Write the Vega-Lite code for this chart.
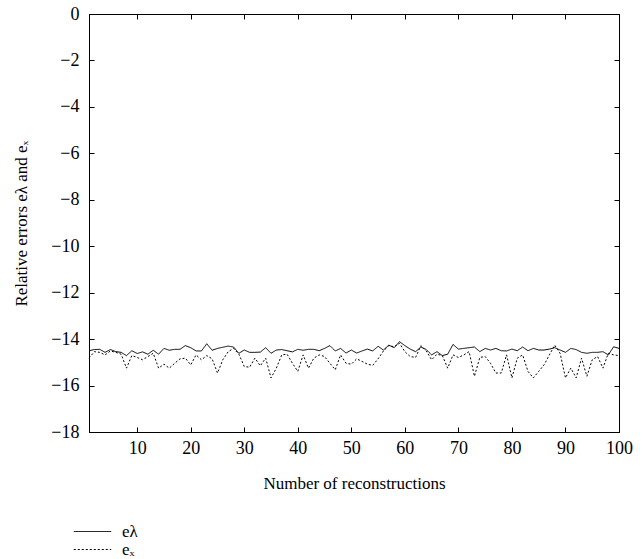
{
  "$schema": "https://vega.github.io/schema/vega-lite/v6.json",
  "width": 530,
  "height": 418,
  "autosize": "none",
  "padding": {"left": 89, "top": 14, "right": 25, "bottom": 127},
  "background": "white",
  "config": {
    "font": "Liberation Serif",
    "view": {"stroke": "black", "strokeWidth": 1},
    "axis": {"grid": false, "domainColor": "black", "tickColor": "black", "labelColor": "black", "titleColor": "black", "labelFont": "Liberation Serif", "titleFont": "Liberation Serif", "labelFontSize": 18, "titleFontSize": 17, "titleFontWeight": "normal", "tickSize": -5, "domainWidth": 1, "tickWidth": 1, "labelFlush": false},
    "legend": {"labelFont": "Liberation Serif", "labelFontSize": 17, "labelColor": "black"}
  },
  "data": {"values": [
    {"n":1,"s":"eλ","v":-14.50},{"n":2,"s":"eλ","v":-14.45},{"n":3,"s":"eλ","v":-14.44},{"n":4,"s":"eλ","v":-14.57},{"n":5,"s":"eλ","v":-14.45},
    {"n":6,"s":"eλ","v":-14.54},{"n":7,"s":"eλ","v":-14.57},{"n":8,"s":"eλ","v":-14.71},{"n":9,"s":"eλ","v":-14.50},{"n":10,"s":"eλ","v":-14.62},
    {"n":11,"s":"eλ","v":-14.55},{"n":12,"s":"eλ","v":-14.65},{"n":13,"s":"eλ","v":-14.48},{"n":14,"s":"eλ","v":-14.65},{"n":15,"s":"eλ","v":-14.40},
    {"n":16,"s":"eλ","v":-14.48},{"n":17,"s":"eλ","v":-14.44},{"n":18,"s":"eλ","v":-14.44},{"n":19,"s":"eλ","v":-14.28},{"n":20,"s":"eλ","v":-14.37},
    {"n":21,"s":"eλ","v":-14.51},{"n":22,"s":"eλ","v":-14.51},{"n":23,"s":"eλ","v":-14.20},{"n":24,"s":"eλ","v":-14.48},{"n":25,"s":"eλ","v":-14.40},
    {"n":26,"s":"eλ","v":-14.35},{"n":27,"s":"eλ","v":-14.30},{"n":28,"s":"eλ","v":-14.34},{"n":29,"s":"eλ","v":-14.61},{"n":30,"s":"eλ","v":-14.47},
    {"n":31,"s":"eλ","v":-14.57},{"n":32,"s":"eλ","v":-14.57},{"n":33,"s":"eλ","v":-14.56},{"n":34,"s":"eλ","v":-14.37},{"n":35,"s":"eλ","v":-14.61},
    {"n":36,"s":"eλ","v":-14.47},{"n":37,"s":"eλ","v":-14.45},{"n":38,"s":"eλ","v":-14.50},{"n":39,"s":"eλ","v":-14.55},{"n":40,"s":"eλ","v":-14.44},
    {"n":41,"s":"eλ","v":-14.48},{"n":42,"s":"eλ","v":-14.44},{"n":43,"s":"eλ","v":-14.44},{"n":44,"s":"eλ","v":-14.50},{"n":45,"s":"eλ","v":-14.40},
    {"n":46,"s":"eλ","v":-14.28},{"n":47,"s":"eλ","v":-14.51},{"n":48,"s":"eλ","v":-14.40},{"n":49,"s":"eλ","v":-14.60},{"n":50,"s":"eλ","v":-14.47},
    {"n":51,"s":"eλ","v":-14.60},{"n":52,"s":"eλ","v":-14.51},{"n":53,"s":"eλ","v":-14.43},{"n":54,"s":"eλ","v":-14.51},{"n":55,"s":"eλ","v":-14.31},
    {"n":56,"s":"eλ","v":-14.47},{"n":57,"s":"eλ","v":-14.26},{"n":58,"s":"eλ","v":-14.37},{"n":59,"s":"eλ","v":-14.11},{"n":60,"s":"eλ","v":-14.28},
    {"n":61,"s":"eλ","v":-14.43},{"n":62,"s":"eλ","v":-14.54},{"n":63,"s":"eλ","v":-14.34},{"n":64,"s":"eλ","v":-14.45},{"n":65,"s":"eλ","v":-14.68},
    {"n":66,"s":"eλ","v":-14.54},{"n":67,"s":"eλ","v":-14.71},{"n":68,"s":"eλ","v":-14.65},{"n":69,"s":"eλ","v":-14.23},{"n":70,"s":"eλ","v":-14.43},
    {"n":71,"s":"eλ","v":-14.40},{"n":72,"s":"eλ","v":-14.37},{"n":73,"s":"eλ","v":-14.34},{"n":74,"s":"eλ","v":-14.54},{"n":75,"s":"eλ","v":-14.40},
    {"n":76,"s":"eλ","v":-14.47},{"n":77,"s":"eλ","v":-14.40},{"n":78,"s":"eλ","v":-14.50},{"n":79,"s":"eλ","v":-14.51},{"n":80,"s":"eλ","v":-14.43},
    {"n":81,"s":"eλ","v":-14.50},{"n":82,"s":"eλ","v":-14.34},{"n":83,"s":"eλ","v":-14.50},{"n":84,"s":"eλ","v":-14.40},{"n":85,"s":"eλ","v":-14.47},
    {"n":86,"s":"eλ","v":-14.47},{"n":87,"s":"eλ","v":-14.43},{"n":88,"s":"eλ","v":-14.37},{"n":89,"s":"eλ","v":-14.47},{"n":90,"s":"eλ","v":-14.57},
    {"n":91,"s":"eλ","v":-14.40},{"n":92,"s":"eλ","v":-14.45},{"n":93,"s":"eλ","v":-14.57},{"n":94,"s":"eλ","v":-14.61},{"n":95,"s":"eλ","v":-14.57},
    {"n":96,"s":"eλ","v":-14.57},{"n":97,"s":"eλ","v":-14.54},{"n":98,"s":"eλ","v":-14.68},{"n":99,"s":"eλ","v":-14.33},{"n":100,"s":"eλ","v":-14.40},
    {"n":1,"s":"eₓ","v":-14.82},{"n":2,"s":"eₓ","v":-14.54},{"n":3,"s":"eₓ","v":-14.57},{"n":4,"s":"eₓ","v":-14.68},{"n":5,"s":"eₓ","v":-14.51},
    {"n":6,"s":"eₓ","v":-14.57},{"n":7,"s":"eₓ","v":-14.65},{"n":8,"s":"eₓ","v":-15.25},{"n":9,"s":"eₓ","v":-14.71},{"n":10,"s":"eₓ","v":-14.79},
    {"n":11,"s":"eₓ","v":-14.89},{"n":12,"s":"eₓ","v":-14.75},{"n":13,"s":"eₓ","v":-14.61},{"n":14,"s":"eₓ","v":-15.25},{"n":15,"s":"eₓ","v":-15.08},
    {"n":16,"s":"eₓ","v":-15.25},{"n":17,"s":"eₓ","v":-15.04},{"n":18,"s":"eₓ","v":-14.85},{"n":19,"s":"eₓ","v":-14.82},{"n":20,"s":"eₓ","v":-15.11},
    {"n":21,"s":"eₓ","v":-14.68},{"n":22,"s":"eₓ","v":-14.89},{"n":23,"s":"eₓ","v":-14.71},{"n":24,"s":"eₓ","v":-14.85},{"n":25,"s":"eₓ","v":-15.46},
    {"n":26,"s":"eₓ","v":-14.89},{"n":27,"s":"eₓ","v":-14.54},{"n":28,"s":"eₓ","v":-14.40},{"n":29,"s":"eₓ","v":-14.65},{"n":30,"s":"eₓ","v":-15.18},
    {"n":31,"s":"eₓ","v":-15.21},{"n":32,"s":"eₓ","v":-14.82},{"n":33,"s":"eₓ","v":-15.15},{"n":34,"s":"eₓ","v":-14.82},{"n":35,"s":"eₓ","v":-15.67},
    {"n":36,"s":"eₓ","v":-15.25},{"n":37,"s":"eₓ","v":-14.68},{"n":38,"s":"eₓ","v":-14.65},{"n":39,"s":"eₓ","v":-15.04},{"n":40,"s":"eₓ","v":-15.39},
    {"n":41,"s":"eₓ","v":-14.68},{"n":42,"s":"eₓ","v":-15.25},{"n":43,"s":"eₓ","v":-14.82},{"n":44,"s":"eₓ","v":-14.68},{"n":45,"s":"eₓ","v":-14.75},
    {"n":46,"s":"eₓ","v":-15.04},{"n":47,"s":"eₓ","v":-15.32},{"n":48,"s":"eₓ","v":-14.68},{"n":49,"s":"eₓ","v":-15.04},{"n":50,"s":"eₓ","v":-15.08},
    {"n":51,"s":"eₓ","v":-14.85},{"n":52,"s":"eₓ","v":-14.96},{"n":53,"s":"eₓ","v":-15.08},{"n":54,"s":"eₓ","v":-15.13},{"n":55,"s":"eₓ","v":-14.85},
    {"n":56,"s":"eₓ","v":-14.51},{"n":57,"s":"eₓ","v":-14.28},{"n":58,"s":"eₓ","v":-14.33},{"n":59,"s":"eₓ","v":-14.18},{"n":60,"s":"eₓ","v":-14.54},
    {"n":61,"s":"eₓ","v":-14.75},{"n":62,"s":"eₓ","v":-14.79},{"n":63,"s":"eₓ","v":-14.28},{"n":64,"s":"eₓ","v":-14.51},{"n":65,"s":"eₓ","v":-14.89},
    {"n":66,"s":"eₓ","v":-14.65},{"n":67,"s":"eₓ","v":-14.71},{"n":68,"s":"eₓ","v":-15.25},{"n":69,"s":"eₓ","v":-14.68},{"n":70,"s":"eₓ","v":-14.79},
    {"n":71,"s":"eₓ","v":-14.68},{"n":72,"s":"eₓ","v":-14.54},{"n":73,"s":"eₓ","v":-15.60},{"n":74,"s":"eₓ","v":-14.79},{"n":75,"s":"eₓ","v":-14.75},
    {"n":76,"s":"eₓ","v":-15.04},{"n":77,"s":"eₓ","v":-15.46},{"n":78,"s":"eₓ","v":-15.46},{"n":79,"s":"eₓ","v":-14.68},{"n":80,"s":"eₓ","v":-15.67},
    {"n":81,"s":"eₓ","v":-14.82},{"n":82,"s":"eₓ","v":-14.68},{"n":83,"s":"eₓ","v":-15.39},{"n":84,"s":"eₓ","v":-15.67},{"n":85,"s":"eₓ","v":-15.39},
    {"n":86,"s":"eₓ","v":-15.11},{"n":87,"s":"eₓ","v":-14.68},{"n":88,"s":"eₓ","v":-14.26},{"n":89,"s":"eₓ","v":-14.61},{"n":90,"s":"eₓ","v":-15.67},
    {"n":91,"s":"eₓ","v":-15.25},{"n":92,"s":"eₓ","v":-15.67},{"n":93,"s":"eₓ","v":-14.82},{"n":94,"s":"eₓ","v":-15.60},{"n":95,"s":"eₓ","v":-14.89},
    {"n":96,"s":"eₓ","v":-14.75},{"n":97,"s":"eₓ","v":-15.25},{"n":98,"s":"eₓ","v":-14.61},{"n":99,"s":"eₓ","v":-14.68},{"n":100,"s":"eₓ","v":-14.71}
  ]},
  "layer": [
    {
      "mark": {"type": "line", "strokeWidth": 1, "color": "black"},
      "encoding": {
        "x": {"field": "n", "type": "quantitative", "scale": {"domain": [1, 100], "nice": false, "zero": false},
              "axis": {"orient": "bottom", "values": [10, 20, 30, 40, 50, 60, 70, 80, 90, 100], "title": "Number of reconstructions", "labelPadding": 12, "titlePadding": 18}},
        "y": {"field": "v", "type": "quantitative", "scale": {"domain": [-18, 0], "nice": false},
              "axis": {"orient": "left", "values": [0, -2, -4, -6, -8, -10, -12, -14, -16, -18], "title": "Relative errors eλ and eₓ", "labelPadding": 15, "titlePadding": 20}},
        "stroke": {"field": "s", "type": "nominal", "scale": {"domain": ["eλ", "eₓ"], "range": ["black", "black"]},
                   "legend": {"title": null, "orient": "none", "legendX": -16, "legendY": 510, "symbolType": "stroke", "symbolSize": 1400, "symbolStrokeWidth": 1, "labelOffset": 10, "rowPadding": 0, "clipHeight": 15}},
        "strokeDash": {"field": "s", "type": "nominal", "scale": {"domain": ["eλ", "eₓ"], "range": [[1, 0], [2, 2]]}, "legend": null}
      }
    },
    {
      "mark": {"type": "line", "opacity": 0},
      "encoding": {
        "x": {"field": "n", "type": "quantitative", "axis": {"orient": "top", "values": [10, 20, 30, 40, 50, 60, 70, 80, 90, 100], "labels": false, "title": null}},
        "y": {"field": "v", "type": "quantitative", "axis": {"orient": "right", "values": [0, -2, -4, -6, -8, -10, -12, -14, -16, -18], "labels": false, "title": null}},
        "detail": {"field": "s"}
      }
    }
  ]
}
